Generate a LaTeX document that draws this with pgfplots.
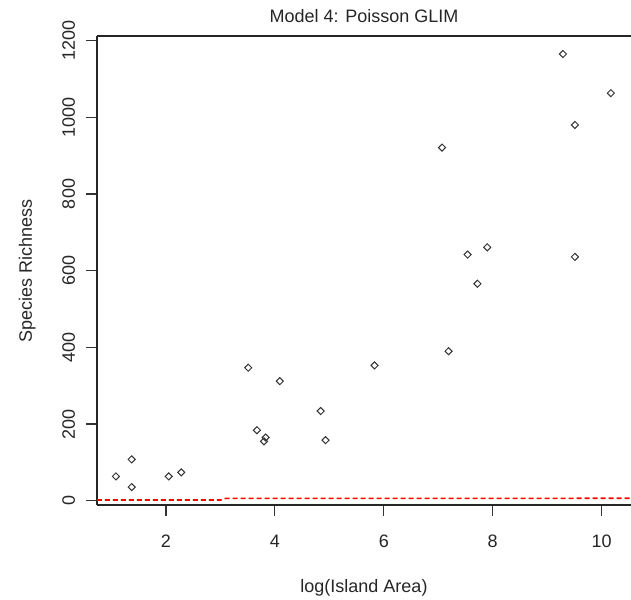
\documentclass[border=0pt]{standalone}
\usepackage{fontspec}
\setmainfont{Liberation Sans}
\usepackage{pgfplots}
\pgfplotsset{compat=1.18}
\begin{document}
\begin{tikzpicture}
\def\fnt{\fontsize{18}{22}\selectfont}
\begin{axis}[
  at={(0pt,0pt)}, anchor=south west,
  scale only axis, width=534pt, height=469pt,
  xmin=0.733, xmax=10.54, ymin=-11, ymax=1212,
  axis lines*=left,
  axis line style={line width=1.2pt, black!85},
  xtick={2,4,6,8,10}, ytick={0,200,400,600,800,1000,1200},
  tick align=outside, major tick length=11pt,
  tick style={line width=1.2pt, black!80},
  /pgf/number format/assume math mode=true,
  /pgf/number format/1000 sep={},
  xticklabel style={font=\fnt, text=black!85, anchor=base, yshift=-31pt},
  yticklabel style={font=\fnt, text=black!85, xshift=-11pt, rotate=90, anchor=base},
  every axis x label/.style={at={(axis description cs:0.5,0)}, yshift=-87pt, anchor=base, font=\fnt, text=black!85},
  every axis y label/.style={at={(axis description cs:0,0.5)}, xshift=-65pt, rotate=90, anchor=base, font=\fnt, text=black!85},
  every axis title/.style={at={(axis description cs:0.5,1)}, yshift=13pt, anchor=base, font=\fnt, text=black!85},
  title={Model 4: Poisson GLIM},
  xlabel={log(Island Area)},
  ylabel={Species Richness},
]
\addplot[only marks, mark=square, mark size=2.5pt, mark options={rotate=45, draw=black!80, fill=white, line width=1pt}] coordinates {
(1.08,63.6) (1.37,108) (1.37,35.7) (2.05,63.6) (2.28,74)
(3.51,347) (3.67,184) (3.83,165) (3.80,155) (4.09,312)
(4.84,234) (4.93,158) (5.83,353) (7.07,921) (7.19,390)
(7.54,642) (7.72,566) (7.90,661) (9.29,1165) (9.51,980)
(9.51,636) (10.17,1063)
};
\addplot[color=red, line width=1.6pt, dash pattern=on 5pt off 3pt] coordinates {
(0.73,2) (3.0,2) (3.1,6.3) (10.54,6.5)
};
\draw[line width=1.2pt, black!85] (rel axis cs:0,1) -- (rel axis cs:1,1);
\end{axis}
\pgfresetboundingbox
\path[use as bounding box] (-97pt,-94pt) rectangle (534pt,505pt);
\end{tikzpicture}
\end{document}
